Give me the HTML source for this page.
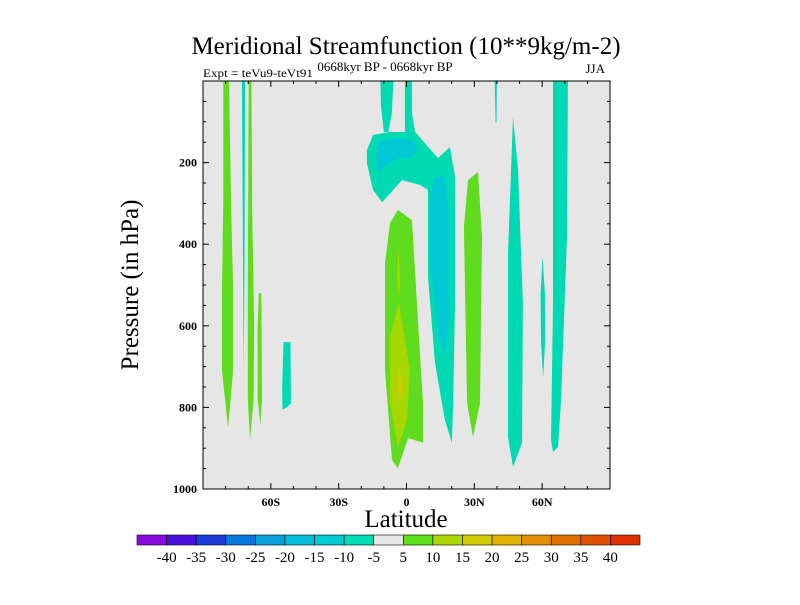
<!DOCTYPE html>
<html><head><meta charset="utf-8"><style>
body{margin:0;background:#fff;width:800px;height:600px;overflow:hidden}
svg text{font-family:"Liberation Serif",serif;fill:#000}
</style></head><body>
<svg id="chart" width="800" height="600" xmlns="http://www.w3.org/2000/svg">
<text x="406" y="54" font-size="25" text-anchor="middle">Meridional Streamfunction (10**9kg/m-2)</text>
<text x="203" y="77" font-size="12" textLength="110" lengthAdjust="spacingAndGlyphs">Expt = teVu9-teVt91</text>
<text x="385" y="71" font-size="13" text-anchor="middle">0668kyr BP - 0668kyr BP</text>
<text x="605" y="73" font-size="13" text-anchor="end">JJA</text>
<text transform="translate(138,285) rotate(-90)" font-size="25" text-anchor="middle">Pressure (in hPa)</text>
<text x="406" y="527" font-size="25" text-anchor="middle">Latitude</text>
<rect x="203" y="81" width="407" height="408" fill="#e6e6e6"/>
<g id="contours"></g>
<rect x="203" y="81" width="407" height="408" fill="none" stroke="#000" stroke-width="1"/>
<g id="axes"></g>
<g id="colorbar"></g>
</svg>
<script>
const latMin=-90, latMax=90, pMin=0, pMax=1000;
const X0=203, X1=610, Y0=81, Y1=489;
const xScale=l=>X0+(l-latMin)/(latMax-latMin)*(X1-X0);
const yScale=p=>Y0+(p-pMin)/(pMax-pMin)*(Y1-Y0);

const contourLevels=["green","teal","green","green","teal","teal","teal","tealBig","cyan","green","yellowGreen","yellowGreen","yellow","green","teal","teal","teal","teal"];
const contourNames=["sh-band-1","sh-thin-teal","sh-band-2","sh-band-3","sh-teal-spot","nh-top-teal","x","tropical-negative-cell","tropical-core","equatorial-positive-cell","equatorial-core-top","equatorial-core","equatorial-max","nh-positive-band","nh-thin-teal","nh-teal-band","nh-teal-thin","nh-teal-band-2"];
const contourShapes=[
 [[-81,0],[-78.5,0],[-77.6,290],[-76.7,510],[-76.7,710],[-78.9,850],[-81.6,710],[-81.6,510],[-81,290]],
 [[-72.8,0],[-71.4,0],[-71.6,440],[-72.0,716],[-72.3,440]],
 [[-69.8,0],[-68.6,0],[-68.3,300],[-67.4,600],[-67.6,780],[-69.2,880],[-70.2,780],[-70.2,500]],
 [[-65.3,520],[-64.2,520],[-63.9,780],[-64.6,843],[-65.8,780],[-65.8,600]],
 [[-54.4,640],[-51.3,640],[-51.1,790],[-53,800],[-54.8,806],[-55,760]],
 [[-11.5,0],[-5.8,0],[-6.5,80],[-8,125],[-10,125],[-11.3,60]],
 [],
 [[-17.5,169],[-14.8,132],[-7.3,125],[-0.7,125],[-0.7,0],[2.4,0],[2.4,78],[3.8,125],[13.9,189],[19.2,162],[21.5,235],[21.5,537],[20.6,789],[20.1,887],[17,831],[12.6,691],[9.5,480],[9.5,267],[6,255],[-2,243],[-10.8,297],[-14.8,267],[-17.5,201]],
 [[-12.6,150],[-6,140],[3,145],[4.6,165],[2,190],[-3,188],[-9,205],[-12,225],[-13.5,190]],
 [[-3.8,316],[2.4,341],[4.6,544],[7.3,789],[7.3,887],[0.7,875],[-3.8,949],[-6.4,929],[-9.5,708],[-9.5,446],[-7.3,348]],
 [[-3.6,410],[-2.8,480],[-3.3,540],[-4.2,480]],
 [[-3.3,544],[1.5,708],[0.2,831],[-3.8,897],[-7.3,789],[-7.3,627]],
 [[-3.3,700],[-2,750],[-3.1,800],[-4.2,750]],
 [[27.2,243],[31.6,223],[33.4,382],[32.5,789],[29.4,873],[26.8,789],[25.4,358]],
 [[39,0],[40,0],[39.8,103],[39.4,103]],
 [[47.1,88],[49.3,218],[51.5,544],[51.1,887],[47.1,946],[44.9,873],[44.9,422]],
 [[60.2,431],[61.2,520],[61.3,640],[60.4,728],[59.5,640],[59.3,520]],
 [[64.8,0],[71.4,0],[71,382],[68.3,789],[67,897],[64.8,909],[63.9,880],[64.8,544]]
];
const cyanBand=[[12,240],[17,230],[19,330],[19,560],[17,676],[14,620],[10.6,450],[10.4,300]];
const palette={teal:"#00dab2",tealBig:"#00dab2",cyan:"#00c8d4",green:"#5fdc1e",yellowGreen:"#a6d800",yellow:"#d4c800"};

const NS="http://www.w3.org/2000/svg";
const cg=document.getElementById('contours');
function poly(pts,fill,name){
 if(!pts.length)return;
 const el=document.createElementNS(NS,'polygon');
 el.setAttribute('points',pts.map(d=>xScale(d[0]).toFixed(1)+','+yScale(d[1]).toFixed(1)).join(' '));
 el.setAttribute('fill',fill);
 
 
 cg.appendChild(el);
}
contourShapes.forEach((s,i)=>{
 poly(s,palette[contourLevels[i]],contourNames[i]);
 if(contourNames[i]==='tropical-core')poly(cyanBand,palette.cyan,'tropical-core-band');
});

const yTicks=[200,400,600,800,1000];
const yMinor=[50,100,150,250,300,350,450,500,550,650,700,750,850,900,950];
const xTicks=[-60,-30,0,30,60];
const xTickLabels=["60S","30S","0","30N","60N"];
const xMinor=[-80,-70,-50,-40,-20,-10,10,20,40,50,70,80];
const ag=document.getElementById('axes');
function line(x1,y1,x2,y2,name){
 const l=document.createElementNS(NS,'line');
 l.setAttribute('x1',x1);l.setAttribute('y1',y1);l.setAttribute('x2',x2);l.setAttribute('y2',y2);
 l.setAttribute('stroke','#000');l.setAttribute('stroke-width','1');
 
 
 ag.appendChild(l);
}
function text(x,y,s,name,anchor,size,parent,bold){
 const t=document.createElementNS(NS,'text');
 t.setAttribute('x',x);t.setAttribute('y',y);t.setAttribute('font-size',size||12);
 t.setAttribute('text-anchor',anchor||'middle');t.textContent=s;
 if(bold)t.setAttribute('font-weight','bold');
 
 
 (parent||ag).appendChild(t);
}
yTicks.forEach(p=>{const y=yScale(p);line(X0,y,X0+6,y,'y-tick');line(X1,y,X1-6,y,'y-tick');text(X0-6,y+4,String(p),'y-tick-label','end',12,ag,true);});
yMinor.forEach(p=>{const y=yScale(p);line(X0,y,X0+3,y,'y-minor-tick');line(X1,y,X1-3,y,'y-minor-tick');});
xTicks.forEach((l,i)=>{const x=xScale(l);line(x,Y1,x,Y1-6,'x-tick');line(x,Y0,x,Y0+6,'x-tick');text(x,Y1+17,xTickLabels[i],'x-tick-label','middle',12,ag,true);});
xMinor.forEach(l=>{const x=xScale(l);line(x,Y1,x,Y1-3,'x-minor-tick');line(x,Y0,x,Y0+3,'x-minor-tick');});

const cbColors=["#8a0ae0","#4b10dc","#1e3cdc","#0a78e0","#0aa0dc","#00bed8","#00ccd8","#00dcb4","#e6e6e6","#5ee01a","#a8d800","#d4cc00","#e0b400","#e09000","#e07000","#e05000","#e03000"];
const cbLabels=["-40","-35","-30","-25","-20","-15","-10","-5","5","10","15","20","25","30","35","40"];
const cb=document.getElementById('colorbar');
const cbX=137,cbW=503,cbY=535,cbH=10,bw=cbW/cbColors.length;
cbColors.forEach((c,i)=>{
 const r=document.createElementNS(NS,'rect');
 r.setAttribute('x',cbX+i*bw);r.setAttribute('y',cbY);r.setAttribute('width',bw);r.setAttribute('height',cbH);
 r.setAttribute('fill',c);r.setAttribute('stroke','#000');r.setAttribute('stroke-width','0.6');
 
 
 cb.appendChild(r);
});
cbLabels.forEach((s,i)=>text(cbX+(i+1)*bw,cbY+27,s,'colorbar-label','middle',15,cb));
</script>
</body></html>
